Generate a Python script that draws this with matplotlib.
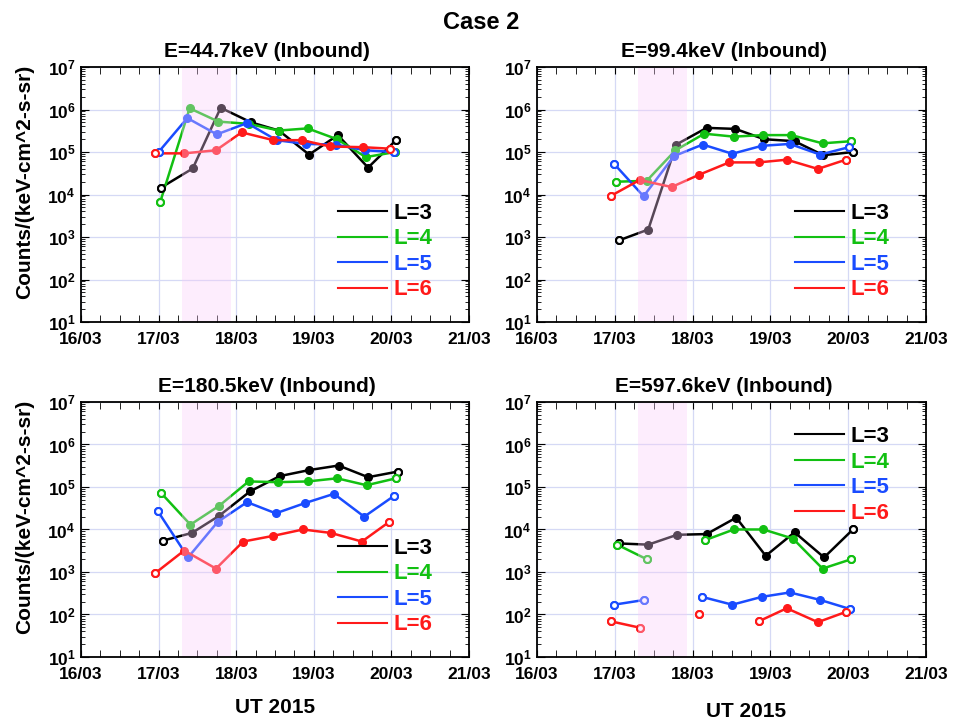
import numpy as np
import matplotlib
matplotlib.use('Agg')
import matplotlib.pyplot as plt
from matplotlib.lines import Line2D
from matplotlib.ticker import FixedLocator, MultipleLocator, LogLocator, NullFormatter

plt.rcParams['font.family'] = ['Liberation Sans', 'DejaVu Sans']
plt.rcParams['font.weight'] = 'bold'
plt.rcParams['mathtext.fontset'] = 'custom'
plt.rcParams['mathtext.rm'] = 'Liberation Sans:bold'
plt.rcParams['mathtext.bf'] = 'Liberation Sans:bold'

# time axis: days since 16/03 00:00 UT
day_labels = ['16/03', '17/03', '18/03', '19/03', '20/03', '21/03']
l_labels = ['L=3', 'L=4', 'L=5', 'L=6']
l_colors = ['#000000', '#12c012', '#1a4cff', '#ff1a1a']
titles = ['E=44.7keV (Inbound)', 'E=99.4keV (Inbound)',
          'E=180.5keV (Inbound)', 'E=597.6keV (Inbound)']
storm_start, storm_end = 1.30, 1.93
nan = np.nan

# ---- E=44.7keV
t_e44 = [[1.03, 1.44, 1.80, 2.19, 2.55, 2.94, 3.31, 3.70, 4.06],
         [1.02, 1.40, 1.77, 2.16, 2.55, 2.92, 3.30, 3.67, 4.05],
         [1.00, 1.37, 1.75, 2.14, 2.52, 2.90, 3.28, 3.66, 4.04],
         [0.95, 1.33, 1.74, 2.07, 2.48, 2.85, 3.21, 3.63, 3.98]]
c_e44 = [[1.45e4, 4.1e4, 1.1e6, 5.0e5, 3.2e5, 8.7e4, 2.5e5, 4.3e4, 1.9e5],
         [6.6e3, 1.07e6, 5.2e5, 4.6e5, 3.2e5, 3.6e5, 2.0e5, 7.6e4, 1.0e5],
         [1.0e5, 6.3e5, 2.6e5, 4.8e5, 1.9e5, 1.55e5, 1.5e5, 1.1e5, 1.0e5],
         [9.3e4, 9.3e4, 1.1e5, 2.9e5, 1.9e5, 1.9e5, 1.35e5, 1.3e5, 1.2e5]]

# ---- E=99.4keV
t_e99 = [[1.05, 1.43, 1.79, 2.18, 2.55, 2.92, 3.31, 3.68, 4.06],
         [1.01, 1.41, 1.78, 2.15, 2.53, 2.90, 3.27, 3.67, 4.04],
         [0.99, 1.37, 1.76, 2.13, 2.51, 2.89, 3.25, 3.64, 4.01],
         [0.95, 1.32, 1.73, 2.08, 2.47, 2.85, 3.21, 3.61, 3.97]]
c_e99 = [[8.3e2, 1.5e3, 1.5e5, 3.7e5, 3.5e5, 2.0e5, 1.8e5, 8.4e4, 1.0e5],
         [2.0e4, 2.1e4, 1.1e5, 2.7e5, 2.3e5, 2.5e5, 2.5e5, 1.6e5, 1.8e5],
         [5.3e4, 9.1e3, 8.0e4, 1.5e5, 9.1e4, 1.4e5, 1.55e5, 8.7e4, 1.3e5],
         [9.3e3, 2.2e4, 1.5e4, 2.9e4, 5.7e4, 5.7e4, 6.6e4, 4.0e4, 6.6e4]]

# ---- E=180.5keV
t_e180 = [[1.06, 1.43, 1.78, 2.18, 2.56, 2.94, 3.32, 3.70, 4.08],
          [1.03, 1.41, 1.78, 2.16, 2.54, 2.92, 3.30, 3.68, 4.06],
          [0.99, 1.38, 1.76, 2.14, 2.51, 2.89, 3.26, 3.65, 4.03],
          [0.96, 1.33, 1.74, 2.09, 2.48, 2.86, 3.22, 3.62, 3.97]]
c_e180 = [[5.5e3, 8.3e3, 2.1e4, 7.9e4, 1.8e5, 2.5e5, 3.2e5, 1.7e5, 2.3e5],
          [7.3e4, 1.3e4, 3.6e4, 1.35e5, 1.3e5, 1.35e5, 1.6e5, 1.1e5, 1.6e5],
          [2.7e4, 2.2e3, 1.5e4, 4.4e4, 2.4e4, 4.2e4, 6.9e4, 2.0e4, 6.1e4],
          [9.5e2, 3.2e3, 1.2e3, 5.2e3, 7.1e3, 1.0e4, 8.3e3, 5.2e3, 1.5e4]]

# ---- E=597.6keV (gaps are nan)
t_e597 = [[1.05, 1.43, 1.80, 2.18, 2.56, 2.94, 3.31, 3.69, 4.06],
          [1.03, 1.41, nan, 2.16, 2.53, 2.91, 3.29, 3.67, 4.04],
          [0.99, 1.38, nan, 2.12, 2.51, 2.89, 3.25, 3.64, 4.02],
          [0.95, 1.32, nan, 2.08, nan, 2.85, 3.21, 3.61, 3.97]]
c_e597 = [[4.7e3, 4.4e3, 7.5e3, 7.8e3, 1.9e4, 2.4e3, 8.6e3, 2.2e3, 1.0e4],
          [4.4e3, 2.0e3, nan, 5.6e3, 1.0e4, 1.0e4, 6.1e3, 1.2e3, 2.0e3],
          [1.7e2, 2.2e2, nan, 2.6e2, 1.7e2, 2.6e2, 3.3e2, 2.2e2, 1.35e2],
          [69, 49, nan, 100, nan, 69, 140, 66, 115]]

panel_t = [t_e44, t_e99, t_e180, t_e597]
panel_c = [c_e44, c_e99, c_e180, c_e597]

fig = plt.figure(figsize=(9.62, 7.23), dpi=100)
ax_pos = [[0.0842, 0.5546, 0.4033, 0.3527],
          [0.5582, 0.5546, 0.4044, 0.3527],
          [0.0842, 0.0913, 0.4033, 0.3527],
          [0.5582, 0.0913, 0.4044, 0.3527]]

for k in range(4):
    ax = fig.add_axes(ax_pos[k])
    ax.set_yscale('log')
    ax.set_ylim(1e1, 1e7)
    ax.set_xlim(0, 5)

    for j in range(4):
        t = np.array(panel_t[k][j], dtype=float)
        c = np.array(panel_c[k][j], dtype=float)
        ax.plot(t, c, '-', color=l_colors[j], lw=1.8, marker='o', ms=5.5,
                mec=l_colors[j], mfc=l_colors[j], zorder=2)
        # open markers at the ends of each continuous piece
        ok = ~np.isnan(c)
        ends = []
        for i in range(len(c)):
            if ok[i] and (i == 0 or not ok[i - 1] or i == len(c) - 1 or not ok[i + 1]):
                ends.append(i)
        ax.plot(t[ends], c[ends], 'o', ls='none', ms=5, mec=l_colors[j],
                mfc='white', mew=1.5, zorder=2.5)

    # storm interval shading, drawn over the lines
    ax.axvspan(storm_start, storm_end, color=(0.98, 0.8, 0.98), alpha=0.35,
               lw=0, zorder=3)

    ax.xaxis.set_major_locator(FixedLocator(range(len(day_labels))))
    ax.set_xticklabels(day_labels)
    ax.xaxis.set_minor_locator(MultipleLocator(0.25))
    ax.yaxis.set_major_locator(LogLocator(base=10, numticks=10))
    ax.yaxis.set_minor_locator(LogLocator(base=10, subs=np.arange(2, 10), numticks=20))
    ax.yaxis.set_minor_formatter(NullFormatter())
    ax.tick_params(which='both', direction='in', top=True, right=True, labelsize=12.5)
    ax.tick_params(axis='x', which='major', length=5, pad=7)
    ax.tick_params(axis='x', which='minor', length=5)
    ax.tick_params(axis='y', which='major', length=6, pad=4)
    ax.tick_params(axis='y', which='minor', length=3)
    for s in ax.spines.values():
        s.set_linewidth(1.3)
        s.set_zorder(5)
    ax.grid(True, which='major', color='#d5d9f5', lw=0.9, zorder=0)
    ax.set_axisbelow(True)

    ax.set_title(titles[k], fontsize=15, fontweight='bold', pad=7, x=0.48)
    if k % 2 == 0:
        ax.set_ylabel('Counts/(keV-cm^2-s-sr)', fontsize=15, fontweight='bold')
        ax.yaxis.set_label_coords(-0.12, 0.55)
    if k >= 2:
        ax.set_xlabel('UT 2015', fontsize=15, fontweight='bold')
        if k == 2:
            ax.xaxis.set_label_coords(0.50, -0.16)
        else:
            ax.xaxis.set_label_coords(0.537, -0.176)

    handles = [Line2D([], [], color=l_colors[j], lw=1.5) for j in range(4)]
    if k == 3:
        leg_loc, leg_anchor = 'upper right', (0.905, 0.905)
    else:
        leg_loc, leg_anchor = 'lower right', (0.905, 0.085)
    ax.legend(handles, l_labels, loc=leg_loc, bbox_to_anchor=leg_anchor,
              frameon=False, labelcolor='linecolor', handlelength=2.2,
              handletextpad=0.3, labelspacing=0.2, borderpad=0, borderaxespad=0,
              prop={'size': 16, 'weight': 'bold'})

fig.suptitle('Case 2', fontsize=17, fontweight='bold', y=0.985)
fig.savefig('out.png', dpi=100)
